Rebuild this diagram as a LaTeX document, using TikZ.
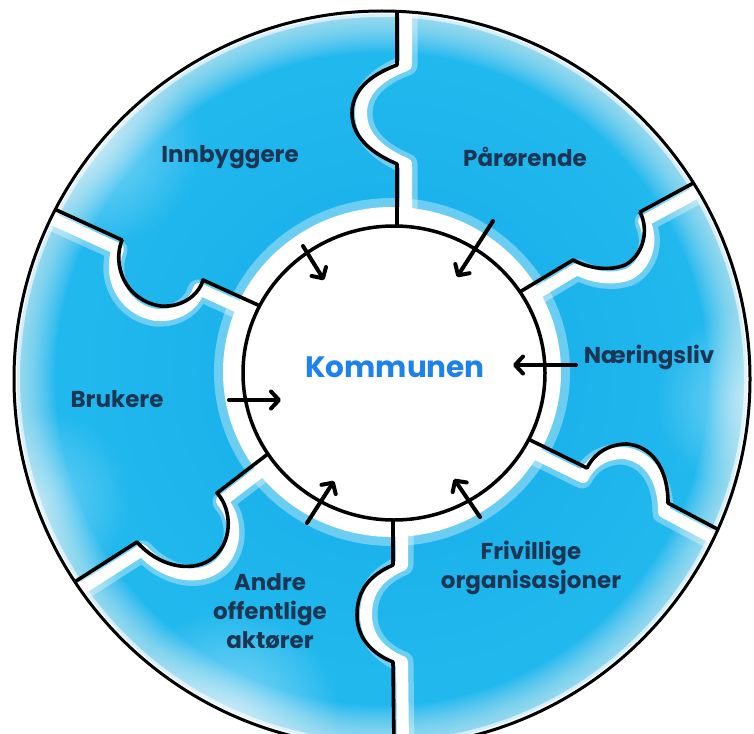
\documentclass[tikz,border=0pt]{standalone}
\usepackage{fontspec}
\setmainfont{Poppins}
\usetikzlibrary{arrows.meta,shapes.geometric,fadings}
\definecolor{navy}{HTML}{1C3553}
\definecolor{hubblue}{HTML}{1E82EB}
\definecolor{ringblue}{HTML}{21B8EE}
\definecolor{deepblue}{HTML}{12AAE8}
\tikzfading[name=fuzzy, inner color=transparent!0, outer color=transparent!100]
\tikzset{
  band/.style={draw=white, line width=12pt, line join=round, line cap=round},
  softband/.style={draw=white, opacity=0.35, line width=21pt, line join=round, line cap=round},
  divider/.style={draw=black, line width=3.6pt, line join=round},
  hub/.style={ellipse, draw=black, line width=3.5pt, fill=white, minimum width=302pt, minimum height=294pt, inner sep=0pt},
  hubtext/.style={text=hubblue, font=\fontsize{29.5}{34}\selectfont\bfseries},
  lab/.style={text=navy, align=center, font=\fontsize{23}{29}\selectfont\bfseries},
  arr/.style={draw=black, line width=4pt, line cap=round, -{Straight Barb[length=8pt, width=17pt, round]}},
  fog/.style={fill=white, path fading=fuzzy}
}
\def\pathA{(397,8) -- (397,65) .. controls (378,72) and (352,86) .. (352,113) .. controls (352,140) and (376,155) .. (397,164) -- (397,230)}
\def\pathB{(518,293) -- (573,260) .. controls (590,269) and (610,271) .. (625,265) .. controls (642,256) and (650,232) .. (640,212) -- (699,180)}
\def\pathC{(522,436) -- (587,468) .. controls (595,452) and (610,444) .. (627,444) .. controls (650,446) and (668,466) .. (668,503) -- (721,531)}
\def\pathD{(393,512) -- (393,565) .. controls (370,575) and (357,590) .. (357,615) .. controls (357,640) and (375,655) .. (393,662) -- (394,745)}
\def\pathE{(273,450) -- (217,493) .. controls (233,510) and (233,545) .. (210,560) .. controls (190,573) and (158,566) .. (137,542) -- (73,583)}
\def\pathF{(52,208) -- (122,240) .. controls (112,265) and (125,300) .. (160,306) .. controls (185,308) and (200,292) .. (203,280) -- (269,310)}
\begin{document}
\begin{tikzpicture}[x=1pt,y=-1pt]
\useasboundingbox (0,0) rectangle (754,733);
\clip (0,0) rectangle (754,733);
\fill[white] (0,0) rectangle (754,733);
% ring
\fill[ringblue] (382,379) circle[radius=369pt];
\begin{scope}
  \clip (382,379) circle[radius=369pt];
  \fill[deepblue, opacity=0.8, path fading=fuzzy] (392,372) ellipse[x radius=300pt, y radius=295pt];
  % fade towards the rim
  \foreach \w in {4,8,...,84} {
    \draw[white, opacity=0.045, line width=\w pt] (382,379) circle[radius=369pt];
  }
  \draw[white, opacity=0.6, line width=14pt] (382,379) circle[radius=369pt];
  \draw[white, opacity=0.8, line width=8pt] (382,379) circle[radius=369pt];
  \fill[fog, opacity=0.45] (90,140) circle[radius=110pt];
  \fill[fog, opacity=0.35] (40,500) circle[radius=90pt];
  \fill[fog, opacity=0.5] (230,720) circle[radius=110pt];
  \fill[fog, opacity=0.4] (745,400) circle[radius=90pt];
  % white bands beside the dividers
  \draw[softband, shift={(10,0)}] \pathA;
  \draw[band, shift={(9,0)}] \pathA;
  \draw[softband, shift={(5,10)}] \pathB;
  \draw[band, shift={(4,9)}] \pathB;
  \draw[softband, shift={(-5,10)}] \pathC;
  \draw[band, shift={(-4,9)}] \pathC;
  \draw[softband, shift={(10,0)}] \pathD;
  \draw[band, shift={(9,0)}] \pathD;
  \draw[softband, shift={(6,9)}] \pathE;
  \draw[band, shift={(5,8)}] \pathE;
  \draw[softband, shift={(-5,10)}] \pathF;
  \draw[band, shift={(-4,9)}] \pathF;
  % white halo round the hub
  \fill[white, opacity=0.35] (392,372) ellipse[x radius=178pt, y radius=174pt];
  \fill[white] (392,372) ellipse[x radius=169pt, y radius=165pt];
  % dividers
  \draw[divider] \pathA;
  \draw[divider] \pathB;
  \draw[divider] \pathC;
  \draw[divider] \pathD;
  \draw[divider] \pathE;
  \draw[divider] \pathF;
\end{scope}
\draw[line width=3pt] (382,379) circle[radius=368pt];
% hub
\node[hub] (hub) at (394,373) {};
\node[hubtext] (hubtext) at (395,367) {Kommunen};
% labels
\node[lab] (innb) at (230,157) {Innbyggere};
\node[lab] (paar) at (525,157) {Pårørende};
\node[lab] (naer) at (649,357) {Næringsliv};
\node[lab] (bruk) at (117,399) {Brukere};
\node[lab] (andre) at (270,611) {Andre\\offentlige\\aktører};
\node[lab] (friv) at (531,568) {Frivillige\\organisasjoner};
% arrows
\coordinate (a1s) at (303,246); \coordinate (a1e) at (324,280);
\coordinate (a2s) at (493,221); \coordinate (a2e) at (457,277);
\coordinate (a3s) at (576,365); \coordinate (a3e) at (513,365);
\coordinate (a4s) at (229,400); \coordinate (a4e) at (281,400);
\coordinate (a5s) at (307,523); \coordinate (a5e) at (334,481);
\coordinate (a6s) at (480,517); \coordinate (a6e) at (454,479);
\draw[arr] (a1s) -- (a1e);
\draw[arr] (a2s) -- (a2e);
\draw[arr] (a3s) -- (a3e);
\draw[arr] (a4s) -- (a4e);
\draw[arr] (a5s) -- (a5e);
\draw[arr] (a6s) -- (a6e);
\end{tikzpicture}
\end{document}
